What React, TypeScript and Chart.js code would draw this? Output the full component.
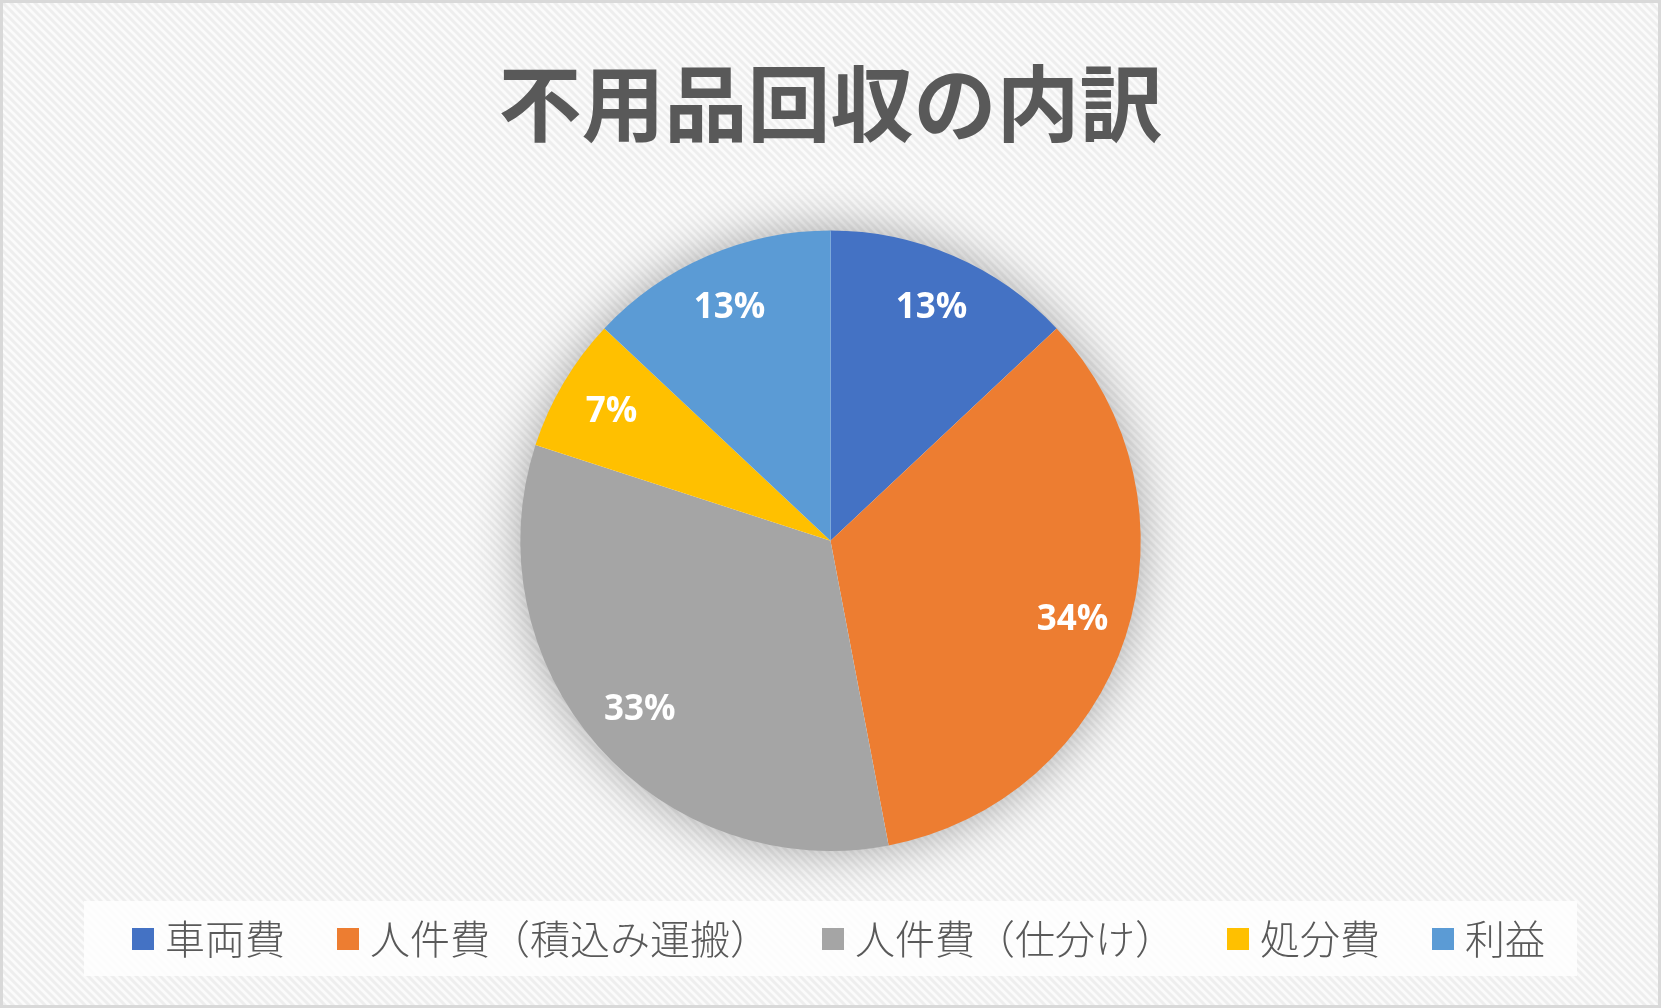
import React, { useEffect, useRef } from 'react';
import { Chart, registerables } from 'chart.js';

Chart.register(...registerables);

const categories = ['車両費', '人件費（積込み運搬）', '人件費（仕分け）', '処分費', '利益'];
const shares = [13, 34, 33, 7, 13];
const sliceColors = ['#4472C4', '#ED7D31', '#A5A5A5', '#FFC000', '#5B9BD5'];
const titleText = '不用品回収の内訳';

const W = 1661;
const H = 1008;
const JP_FONT = '"Noto Sans CJK JP", "Noto Sans", sans-serif';
const LABEL_FONT = '"Open Sans", "Liberation Sans", sans-serif';

const backgroundPlugin = {
  id: 'bgPattern',
  beforeDraw(chart: any) {
    const ctx = chart.ctx as CanvasRenderingContext2D;
    ctx.save();
    const tile = document.createElement('canvas');
    tile.width = 8;
    tile.height = 8;
    const t = tile.getContext('2d')!;
    t.fillStyle = '#fbfbfb';
    t.fillRect(0, 0, 8, 8);
    t.strokeStyle = '#eeeeee';
    t.lineWidth = 3;
    for (let k = -1; k <= 1; k++) {
      t.beginPath();
      t.moveTo(k * 8 - 1, -1);
      t.lineTo(k * 8 + 9, 9);
      t.stroke();
    }
    const pat = ctx.createPattern(tile, 'repeat');
    if (pat) ctx.fillStyle = pat;
    ctx.fillRect(0, 0, chart.width, chart.height);
    ctx.strokeStyle = '#d9d9d9';
    ctx.lineWidth = 3;
    ctx.strokeRect(1.5, 1.5, chart.width - 3, chart.height - 3);
    ctx.restore();
  },
};

const glowPlugin = {
  id: 'pieGlow',
  beforeDatasetsDraw(chart: any) {
    const arc = chart.getDatasetMeta(0).data[0];
    if (!arc) return;
    const { x, y, outerRadius } = arc.getProps(['x', 'y', 'outerRadius'], true);
    const ctx = chart.ctx as CanvasRenderingContext2D;
    ctx.save();
    ctx.shadowColor = 'rgba(0,0,0,0.34)';
    ctx.shadowBlur = 50;
    ctx.fillStyle = '#ffffff';
    ctx.beginPath();
    ctx.arc(x, y, outerRadius - 1, 0, Math.PI * 2);
    ctx.fill();
    ctx.restore();
  },
};

const percentPlugin = {
  id: 'percentLabels',
  afterDatasetsDraw(chart: any) {
    const meta = chart.getDatasetMeta(0);
    const data = chart.data.datasets[0].data as number[];
    const total = data.reduce((a, b) => a + b, 0);
    const ctx = chart.ctx as CanvasRenderingContext2D;
    ctx.save();
    ctx.fillStyle = '#ffffff';
    ctx.font = `bold 35px ${LABEL_FONT}`;
    ctx.textAlign = 'center';
    ctx.textBaseline = 'middle';
    meta.data.forEach((arc: any, i: number) => {
      const { x, y, startAngle, endAngle, outerRadius } = arc.getProps(
        ['x', 'y', 'startAngle', 'endAngle', 'outerRadius'],
        true
      );
      const mid = (startAngle + endAngle) / 2;
      const r = outerRadius * 0.82;
      const txt = Math.round((data[i] / total) * 100) + '%';
      ctx.fillText(txt, x + Math.cos(mid) * r, y + Math.sin(mid) * r + 1);
    });
    ctx.restore();
  },
};

const legendPlugin = {
  id: 'bottomLegend',
  afterDraw(chart: any) {
    const ctx = chart.ctx as CanvasRenderingContext2D;
    const labels = chart.data.labels as string[];
    const colors = chart.data.datasets[0].backgroundColor as string[];
    ctx.save();
    ctx.fillStyle = 'rgba(255,255,255,0.8)';
    ctx.fillRect(84, 901, 1493, 75);
    ctx.font = `300 40px ${JP_FONT}`;
    const box = 22;
    const boxGap = 11;
    const itemGap = 52;
    const widths = labels.map((l) => box + boxGap + ctx.measureText(l).width);
    const total = widths.reduce((a, b) => a + b, 0) + itemGap * (labels.length - 1);
    let x = 838.5 - total / 2;
    const cy = 939;
    ctx.textBaseline = 'middle';
    ctx.textAlign = 'left';
    labels.forEach((l, i) => {
      ctx.fillStyle = colors[i];
      ctx.fillRect(x, cy - box / 2, box, box);
      ctx.fillStyle = '#595959';
      ctx.fillText(l, x + box + boxGap, cy);
      x += widths[i] + itemGap;
    });
    ctx.restore();
  },
};

export default function App() {
  const ref = useRef<HTMLCanvasElement | null>(null);

  useEffect(() => {
    document.body.style.margin = '0';
    const canvas = ref.current;
    if (!canvas) return;
    const chart = new Chart(canvas, {
      type: 'pie',
      data: {
        labels: categories,
        datasets: [
          {
            data: shares,
            backgroundColor: sliceColors,
            borderWidth: 0,
            hoverBorderWidth: 0,
            hoverOffset: 0,
          },
        ],
      },
      options: {
        responsive: false,
        animation: false,
        devicePixelRatio: 1,
        layout: { padding: { top: 0, bottom: 157, left: 0, right: 0 } },
        plugins: {
          legend: { display: false },
          tooltip: { enabled: false },
          title: {
            display: true,
            text: titleText,
            color: '#595959',
            font: { family: JP_FONT, size: 83, weight: 'bold', lineHeight: 1.2 },
            padding: { top: 54, bottom: 77 },
          },
        },
      },
      plugins: [backgroundPlugin, glowPlugin, percentPlugin, legendPlugin],
    } as any);
    return () => chart.destroy();
  }, []);

  return (
    <div style={{ position: 'absolute', left: 0, top: 0, width: W, height: H }}>
      <canvas ref={ref} width={W} height={H} style={{ display: 'block', width: W, height: H }} />
    </div>
  );
}
